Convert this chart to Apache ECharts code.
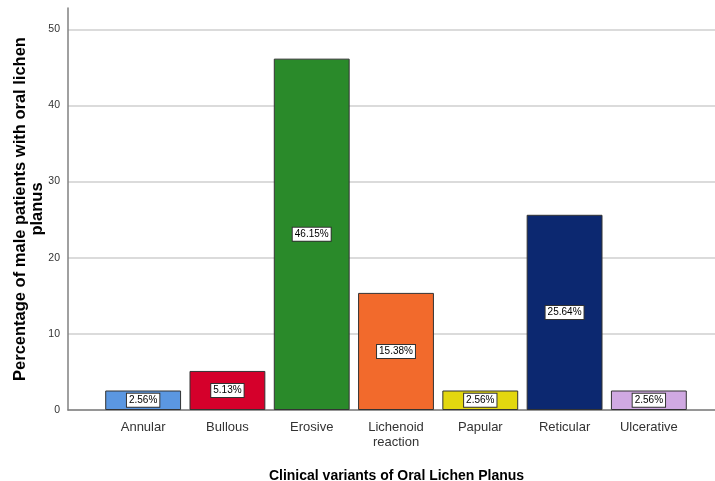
<!DOCTYPE html>
<html>
<head>
<meta charset="utf-8">
<script src="https://cdn.jsdelivr.net/npm/echarts@6/dist/echarts.min.js"></script>
<style>
  html, body { margin: 0; padding: 0; background: #fff; }
  #chart { width: 715px; height: 481px; }
</style>
</head>
<body>
<div id="chart"></div>
<script>
const categories = ['Annular', 'Bullous', 'Erosive', 'Lichenoid\nreaction', 'Papular', 'Reticular', 'Ulcerative'];
const percentages = [2.56, 5.13, 46.15, 15.38, 2.56, 25.64, 2.56];
const barColors = ['#5b97e1', '#d5002b', '#2a8a2a', '#f26a2c', '#e3d70f', '#0c2870', '#d0a9e2'];
const yTicks = [0, 10, 20, 30, 40, 50];

const sans = '"Liberation Sans", Arial, sans-serif';
const yMax = 52.8;

const chart = echarts.init(document.getElementById('chart'), null, { renderer: 'canvas' });

chart.setOption({
  animation: false,
  backgroundColor: '#ffffff',
  grid: [
    // background grid: axis lines, gridlines, axis names (runs off the right edge)
    { left: 68, right: -10, top: 8, bottom: 71, outerBoundsMode: 'none', containLabel: false },
    // inner grid for the bars, padded on both sides like the original
    { left: 101, right: 24, top: 8, bottom: 71, outerBoundsMode: 'none', containLabel: false }
  ],
  xAxis: [
    {
      gridIndex: 0,
      type: 'category',
      data: ['x'],
      axisLine: { lineStyle: { color: '#808080', width: 1.5 } },
      axisTick: { show: false },
      axisLabel: { show: false },
      name: 'Clinical variants of Oral Lichen Planus',
      nameLocation: 'middle',
      nameGap: 59,
      nameMoveOverlap: false,
      nameTextStyle: { fontFamily: sans, fontWeight: 'bold', fontSize: 14, color: '#000' }
    },
    {
      gridIndex: 1,
      type: 'category',
      data: categories,
      axisLine: { show: false },
      axisTick: { show: false },
      axisLabel: { fontFamily: sans, fontSize: 13, color: '#333', margin: 10, lineHeight: 15 }
    }
  ],
  yAxis: [
    {
      gridIndex: 0,
      type: 'value',
      min: 0,
      max: yMax,
      axisLine: { show: true, lineStyle: { color: '#808080', width: 1.5 } },
      axisTick: { show: false, customValues: yTicks },
      axisLabel: { customValues: yTicks, fontFamily: sans, fontSize: 10.5, color: '#333', margin: 8 },
      splitLine: { show: true, lineStyle: { color: '#cfcfcf', width: 1.5 } },
      name: 'Percentage of male patients with oral lichen\nplanus',
      nameLocation: 'middle',
      nameGap: 22,
      nameMoveOverlap: false,
      nameTextStyle: { fontFamily: sans, fontWeight: 'bold', fontSize: 16.5, color: '#000', lineHeight: 17 }
    },
    {
      gridIndex: 1,
      type: 'value',
      min: 0,
      max: yMax,
      show: false
    }
  ],
  series: [
    {
      type: 'bar',
      xAxisIndex: 1,
      yAxisIndex: 1,
      barCategoryGap: '10%',
      data: percentages.map((v, i) => ({
        value: v,
        itemStyle: { color: barColors[i], borderColor: '#333', borderWidth: 1 }
      })),
      label: {
        show: true,
        position: 'inside',
        formatter: p => p.value.toFixed(2) + '%',
        fontFamily: sans,
        fontSize: 10,
        color: '#000',
        backgroundColor: '#fff',
        borderColor: '#333',
        borderWidth: 1,
        padding: [2, 2, 1, 2]
      }
    }
  ]
});
</script>
</body>
</html>
